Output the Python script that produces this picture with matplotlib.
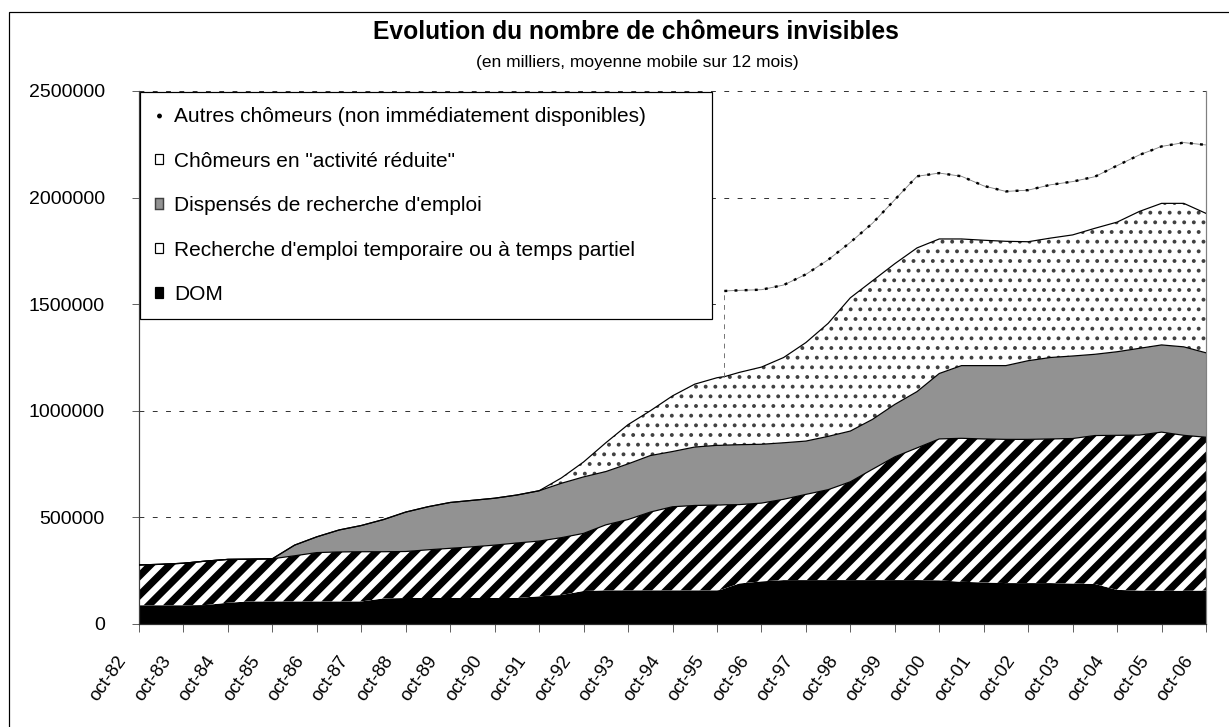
import numpy as np
import matplotlib
matplotlib.use("Agg")
import matplotlib.pyplot as plt
from matplotlib.patches import Patch, Rectangle
from matplotlib.ticker import FormatStrFormatter
from matplotlib.transforms import ScaledTranslation

W, H, DPI = 1229, 727, 174

# months since oct-82
mois = list(range(0, 157, 6)) + [157, 158] + list(range(162, 289, 6))

# values in thousands (stacked, bottom to top)
dom = [88, 88, 88, 89, 100, 106, 106, 106, 106, 106, 106, 120, 122, 122, 122, 122, 122, 122,
       130, 136, 155, 158, 158, 158, 158, 158, 158, 160, 166,
       190, 200, 206, 206, 206, 206, 206, 206, 206, 205, 198, 195, 192, 192, 192, 190, 188,
       160, 157, 156, 156, 157]
temp = [189, 192, 197, 206, 203, 198, 200, 214, 229, 232, 233, 219, 218, 226, 233, 240, 248, 258,
        259, 269, 270, 307, 332, 367, 392, 398, 400, 398, 393,
        370, 367, 379, 402, 424, 461, 520, 578, 620, 663, 673, 673, 674, 674, 676, 680, 696,
        725, 729, 744, 729, 719]
disp = [0, 0, 0, 0, 0, 0, 0, 50, 74, 103, 123, 151, 185, 202, 215, 218, 220, 225,
        236, 255, 265, 250, 261, 265, 259, 274, 280, 280, 280,
        281, 276, 265, 250, 250, 238, 234, 246, 264, 307, 341, 344, 346, 369, 382, 387, 381,
        392, 407, 409, 415, 396]
act_red = [0, 0, 0, 0, 0, 0, 0, 0, 0, 0, 0, 0, 0, 0, 0, 0, 0, 0,
           0, 25, 70, 135, 184, 210, 261, 295, 317, 320, 321,
           339, 362, 400, 462, 530, 625, 650, 660, 674, 631, 594, 588, 583, 558, 560, 568, 591,
           608, 642, 664, 673, 654]
autres = [0, 0, 0, 0, 0, 0, 0, 0, 0, 0, 0, 0, 0, 0, 0, 0, 0, 0,
          0, 0, 0, 0, 0, 0, 0, 0, 0, 0, 402,
          385, 363, 340, 320, 298, 260, 270, 300, 336, 309, 294, 255, 234, 242, 250, 250, 242,
          265, 265, 267, 285, 321]

noms = ["DOM",
        "Recherche d'emploi temporaire ou à temps partiel",
        "Dispensés de recherche d'emploi",
        "Chômeurs en \"activité réduite\"",
        "Autres chômeurs (non immédiatement disponibles)"]
annees = ["82", "83", "84", "85", "86", "87", "88", "89", "90", "91", "92", "93", "94",
          "95", "96", "97", "98", "99", "00", "01", "02", "03", "04", "05", "06"]
etiquettes = ["oct-" + a for a in annees]

plt.rcParams['font.family'] = ['Liberation Sans', 'DejaVu Sans']
plt.rcParams['lines.scale_dashes'] = False

x = np.array(mois)
cum = np.cumsum(np.vstack([dom, temp, disp, act_red, autres]) * 1000.0, axis=0)

fig = plt.figure(figsize=(W / DPI, H / DPI), dpi=DPI)
ax = fig.add_axes([139 / W, (H - 624) / H, (1206 - 139) / W, (624 - 91) / H])


def hatch_lw(art, lw):
    if hasattr(art, 'set_hatch_linewidth'):
        art.set_hatch_linewidth(lw)


ax.fill_between(x, 0, cum[0], facecolor='black', linewidth=0, zorder=2)

plt.rcParams['hatch.linewidth'] = 3.0
f = ax.fill_between(x, cum[0], cum[1], facecolor='white', edgecolor='black',
                    hatch='///', linewidth=0, zorder=2)
hatch_lw(f, 3.0)

ax.fill_between(x, cum[1], cum[2], facecolor='#929292', linewidth=0, zorder=2)

plt.rcParams['hatch.linewidth'] = 0.8
f = ax.fill_between(x, cum[2], cum[3], facecolor='white', edgecolor='#404040',
                    hatch='...', linewidth=0, zorder=2)
hatch_lw(f, 0.8)

ax.fill_between(x, cum[3], cum[4], facecolor='white', linewidth=0, zorder=2)

# contours
for k in range(1, 4):
    ax.plot(x, cum[k], color='black', lw=0.5, zorder=3)
i0 = next(i for i, v in enumerate(autres) if v > 0)
ax.plot(x[i0:], cum[4][i0:], color='#808080', lw=0.35, zorder=3)
ax.plot(x[i0:], cum[4][i0:], color='black', lw=1.0, ls=(0, (1.2, 3.0)), zorder=3)
ax.plot([x[i0], x[i0]], [cum[3][i0], cum[4][i0]], color='#606060', lw=0.35,
        ls=(0, (2, 2)), zorder=3)

ax.set_xlim(0, 288)
ax.set_ylim(0, 2500000)
ax.set_yticks(np.arange(0, 2500001, 500000))
ax.yaxis.set_major_formatter(FormatStrFormatter('%d'))
ax.set_xticks(np.arange(0, 289, 12))
ax.set_xticklabels(etiquettes)
ax.set_axisbelow(True)
ax.yaxis.grid(True, color='#303030', lw=0.4, ls=(0, (2.0, 3.5)), zorder=0)

ax.spines['top'].set_visible(False)
ax.spines['right'].set_color('#808080')
ax.spines['right'].set_linewidth(0.5)
ax.spines['left'].set_color('#404040')
ax.spines['left'].set_linewidth(0.5)
ax.spines['bottom'].set_color('#303030')
ax.spines['bottom'].set_linewidth(0.5)

ax.tick_params(axis='y', direction='out', length=2.9, width=0.4, color='#606060',
               pad=11.2, labelsize=8.05)
ax.tick_params(axis='x', direction='out', length=3.3, width=0.4, color='#606060',
               pad=10.5, labelsize=7.6)
off = ScaledTranslation(-16 / DPI, 0, fig.dpi_scale_trans)
for lab in ax.get_xticklabels():
    lab.set_rotation(55)
    lab.set_ha('right')
    lab.set_va('center')
    lab.set_rotation_mode('anchor')
    lab.set_transform(lab.get_transform() + off)

# legende
plt.rcParams['hatch.linewidth'] = 0.8
poignees = [Patch(facecolor='white', edgecolor='black', hatch='..', linewidth=0),
            Patch(facecolor='white', edgecolor='black', linewidth=0.5),
            Patch(facecolor='#929292', edgecolor='#404040', linewidth=0.6),
            Patch(facecolor='white', edgecolor='black', linewidth=0.5),
            Patch(facecolor='black', edgecolor='black', linewidth=0.5)]
leg = fig.legend(poignees, noms[::-1], loc='upper left',
                 bbox_to_anchor=(140 / W, 1 - 321 / H, (712 - 140) / W, (321 - 92) / H),
                 mode='expand', borderaxespad=0, fontsize=8.65, labelspacing=1.22,
                 borderpad=0.72, handlelength=0.4, handleheight=0.4, handletextpad=0.5,
                 fancybox=False, framealpha=1, edgecolor='black')
leg.get_frame().set_linewidth(0.5)

fig.text(636 / W, 1 - 32 / H, "Evolution du nombre de chômeurs invisibles",
         ha='center', va='center', fontsize=10.2, fontweight='bold')
fig.text(637 / W, 1 - 62 / H, "(en milliers, moyenne mobile sur 12 mois)",
         ha='center', va='center', fontsize=7.2)

fig.add_artist(Rectangle((9 / W, -0.1), 1.2, 1 - 12 / H + 0.1, transform=fig.transFigure,
                         fill=False, edgecolor='black', linewidth=0.5))

fig.savefig("out.png", dpi=DPI)
